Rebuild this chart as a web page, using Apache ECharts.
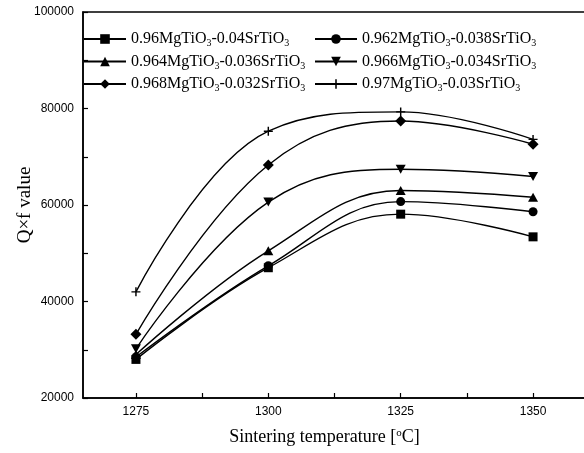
<!DOCTYPE html>
<html>
<head>
<meta charset="utf-8">
<script src="https://cdn.jsdelivr.net/npm/echarts@6/dist/echarts.min.js"></script>
<style>html,body{margin:0;padding:0;background:#fff}#c{width:584px;height:453px}</style>
</head>
<body>
<div id="c"></div>
<script>
const temperatures = [1275, 1300, 1325, 1350];
const seriesNames = [
  "0.96MgTiO3-0.04SrTiO3",
  "0.962MgTiO3-0.038SrTiO3",
  "0.964MgTiO3-0.036SrTiO3",
  "0.966MgTiO3-0.034SrTiO3",
  "0.968MgTiO3-0.032SrTiO3",
  "0.97MgTiO3-0.03SrTiO3"
];
const s096 = [28000, 47000, 58100, 53400];
const s0962 = [28500, 47400, 60700, 58600];
const s0964 = [29000, 50500, 63000, 61600];
const s0966 = [30200, 60600, 67400, 65900];
const s0968 = [33200, 68300, 77400, 72600];
const s097 = [42000, 75300, 79300, 73600];
const yTicks = [20000, 40000, 60000, 80000, 100000];
const xTicks = [1275, 1300, 1325, 1350];

const values = [s096, s0962, s0964, s0966, s0968, s097];
const symbols = [
  'rect', 'circle', 'triangle',
  'path://M0,0 L10,0 L5,9 Z',
  'diamond',
  'path://M4.2,0 L5.8,0 L5.8,4.2 L10,4.2 L10,5.8 L5.8,5.8 L5.8,10 L4.2,10 L4.2,5.8 L0,5.8 L0,4.2 L4.2,4.2 Z'
];
const sizes = [9, 9, [10, 9], [10, 9], 11, 9];

const series = seriesNames.map((n, i) => ({
  name: n,
  type: 'line',
  smooth: 0.4,
  data: temperatures.map((t, j) => [t, values[i][j]]),
  symbol: symbols[i],
  symbolSize: sizes[i],
  showAllSymbol: true,
  lineStyle: { color: '#000', width: 1.4 },
  itemStyle: { color: '#000' },
  z: 3
}));

function fmt(name) {
  return name.replace(/O3/g, 'O{sub|3}');
}
const legendText = {
  fontFamily: 'Liberation Serif', fontSize: 16, color: '#000',
  rich: { sub: { fontFamily: 'Liberation Serif', fontSize: 10, verticalAlign: 'bottom', padding: [9, 0, 0, 0], color: '#000' } }
};
function legend(items, left) {
  return {
    data: items.map(i => seriesNames[i]),
    orient: 'vertical', left: left, top: 31,
    itemWidth: 42, itemHeight: 12, itemGap: 5, padding: 0,
    formatter: fmt, textStyle: legendText
  };
}

const chart = echarts.init(document.getElementById('c'));
chart.setOption({
  animation: false,
  backgroundColor: '#fff',
  grid: { left: 83, right: -2, top: 12, bottom: 55, outerBoundsMode: 'none', containLabel: false,
    show: true, borderColor: '#000', borderWidth: 1.5, backgroundColor: 'transparent' },
  legend: [legend([0, 2, 4], 83), legend([1, 3, 5], 314)],
  xAxis: {
    type: 'value', min: 1265, max: 1360, interval: 12.5,
    name: 'Sintering temperature [{sup|o}C]',
    nameLocation: 'middle', nameGap: 30, nameMoveOverlap: false,
    nameTextStyle: { fontFamily: 'Liberation Serif', fontSize: 18, color: '#000', padding: [0, 20, 0, 0],
      rich: { sup: { fontFamily: 'Liberation Serif', fontSize: 11, verticalAlign: 'top', padding: [0, 0, 8, 0], color: '#000' } } },
    axisLine: { lineStyle: { color: '#000', width: 1.5 } },
    axisTick: { inside: true, length: 5, lineStyle: { color: '#000', width: 1.2 },
      customValues: [1275, 1287.5, 1300, 1312.5, 1325, 1337.5, 1350] },
    axisLabel: { customValues: xTicks, formatter: v => String(v), fontFamily: 'Liberation Sans', fontSize: 12, color: '#000', margin: 8 },
    splitLine: { show: false }
  },
  yAxis: {
    type: 'value', min: 20000, max: 100000, interval: 10000,
    name: 'Q×f value', nameLocation: 'middle', nameGap: 48, nameMoveOverlap: false,
    nameTextStyle: { fontFamily: 'Liberation Serif', fontSize: 19, color: '#000' },
    axisLine: { lineStyle: { color: '#000', width: 1.5 } },
    axisTick: { inside: true, length: 5, lineStyle: { color: '#000', width: 1.2 } },
    axisLabel: { customValues: yTicks, formatter: v => String(v), fontFamily: 'Liberation Sans', fontSize: 12, color: '#000', margin: 9 },
    splitLine: { show: false }
  },
  series: series
});
</script>
</body>
</html>
